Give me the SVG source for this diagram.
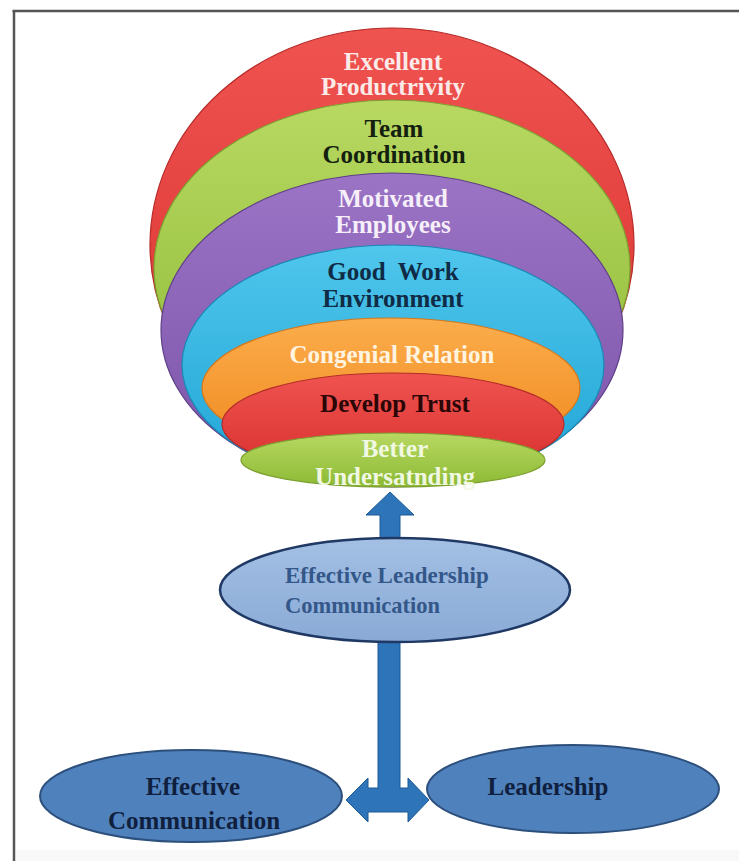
<svg xmlns="http://www.w3.org/2000/svg" width="739" height="861" viewBox="0 0 739 861">
<style>
.t{font-family:"Liberation Serif","Times New Roman",serif;font-weight:bold;font-size:25px;text-anchor:middle}
.lay{stroke-width:1.2}
.bn{fill:#4f81bd;stroke:#2c4f7c;stroke-width:2}
.arr{fill:#2e74b8;stroke:#1d5a94;stroke-width:1}
</style>
<defs>
<linearGradient id="gRed" x1="0" y1="0" x2="0" y2="1"><stop offset="0" stop-color="#ef5350"/><stop offset="1" stop-color="#d8302d"/></linearGradient>
<linearGradient id="gGreen" x1="0" y1="0" x2="0" y2="1"><stop offset="0" stop-color="#b8d862"/><stop offset="1" stop-color="#8cba34"/></linearGradient>
<linearGradient id="gPurple" x1="0" y1="0" x2="0" y2="1"><stop offset="0" stop-color="#9b74c6"/><stop offset="1" stop-color="#7a52a8"/></linearGradient>
<linearGradient id="gBlue" x1="0" y1="0" x2="0" y2="1"><stop offset="0" stop-color="#4fc6ec"/><stop offset="1" stop-color="#1fa4d5"/></linearGradient>
<linearGradient id="gOrange" x1="0" y1="0" x2="0" y2="1"><stop offset="0" stop-color="#fbad4c"/><stop offset="1" stop-color="#f0881d"/></linearGradient>
<linearGradient id="gMid" x1="0" y1="0" x2="0" y2="1"><stop offset="0" stop-color="#a3c0e4"/><stop offset="1" stop-color="#8aaad6"/></linearGradient>
</defs>
<rect x="0" y="0" width="739" height="861" fill="#ffffff"/>
<rect x="16" y="850" width="723" height="11" fill="#f8f8f8"/>
<g id="frame" stroke="#555" stroke-width="2.5" fill="none">
<line x1="12.5" y1="11" x2="739" y2="11"/>
<line x1="14" y1="11" x2="14" y2="861"/>
</g>
<g id="layer-excellent-productivity">
<ellipse class="lay" cx="392" cy="245" rx="242" ry="217" fill="url(#gRed)" stroke="#b52b29"/>
<text class="t" x="393" y="70" fill="#fbeae8">Excellent</text>
<text class="t" x="393" y="95" fill="#fbeae8">Productrivity</text>
</g>
<g id="layer-team-coordination">
<ellipse class="lay" cx="392" cy="268" rx="238" ry="168" fill="url(#gGreen)" stroke="#7c9f30"/>
<text class="t" x="394" y="137" fill="#14200f">Team</text>
<text class="t" x="394" y="163" fill="#14200f">Coordination</text>
</g>
<g id="layer-motivated-employees">
<ellipse class="lay" cx="392" cy="330" rx="231" ry="157" fill="url(#gPurple)" stroke="#5e3e86"/>
<text class="t" x="393" y="207" fill="#f6eff9">Motivated</text>
<text class="t" x="393" y="233" fill="#f6eff9">Employees</text>
</g>
<g id="layer-good-work-environment">
<ellipse class="lay" cx="393" cy="365" rx="211" ry="120" fill="url(#gBlue)" stroke="#1a88b3"/>
<text class="t" x="393" y="280" fill="#0f2b45" style="white-space:pre">Good  Work</text>
<text class="t" x="393" y="307" fill="#0f2b45">Environment</text>
</g>
<g id="layer-congenial-relation">
<ellipse class="lay" cx="391" cy="388" rx="189" ry="70" fill="url(#gOrange)" stroke="#d6771a"/>
<text class="t" x="392" y="363" fill="#fff4e0">Congenial Relation</text>
</g>
<g id="layer-develop-trust">
<ellipse class="lay" cx="393" cy="424" rx="171" ry="51" fill="url(#gRed)" stroke="#b52b29"/>
<text class="t" x="395" y="412" fill="#2a0606">Develop Trust</text>
</g>
<g id="layer-better-understanding">
<ellipse class="lay" cx="393" cy="460" rx="152" ry="27" fill="url(#gGreen)" stroke="#7c9f30"/>
<text class="t" x="395" y="457" fill="#f1f8e2">Better</text>
<text class="t" x="395" y="485" fill="#f1f8e2">Undersatnding</text>
</g>
<g id="connectors">
<path class="arr" d="M380,560 L380,515 L366,515 L390,492 L414,515 L400,515 L400,560 Z"/>
<path class="arr" d="M378,630 L400,630 L400,788 L408,788 L408,778 L429,800 L408,822 L408,812 L368,812 L368,822 L346,800 L368,778 L368,788 L378,788 Z"/>
</g>
<g id="node-effective-leadership-communication">
<ellipse cx="395" cy="590" rx="175" ry="52" fill="url(#gMid)" stroke="#1f3864" stroke-width="2.5"/>
<text class="t" x="285" y="583" style="text-anchor:start;font-size:23px" fill="#34578a">Effective Leadership</text>
<text class="t" x="285" y="613" style="text-anchor:start;font-size:22.5px" fill="#34578a">Communication</text>
</g>
<g id="node-effective-communication">
<ellipse class="bn" cx="191" cy="796" rx="151" ry="46"/>
<text class="t" x="193" y="795" fill="#0f1f3d">Effective</text>
<text class="t" x="194" y="829" fill="#0f1f3d">Communication</text>
</g>
<g id="node-leadership">
<ellipse class="bn" cx="573" cy="789" rx="146" ry="44"/>
<text class="t" x="548" y="795" fill="#0f1f3d">Leadership</text>
</g>
</svg>
